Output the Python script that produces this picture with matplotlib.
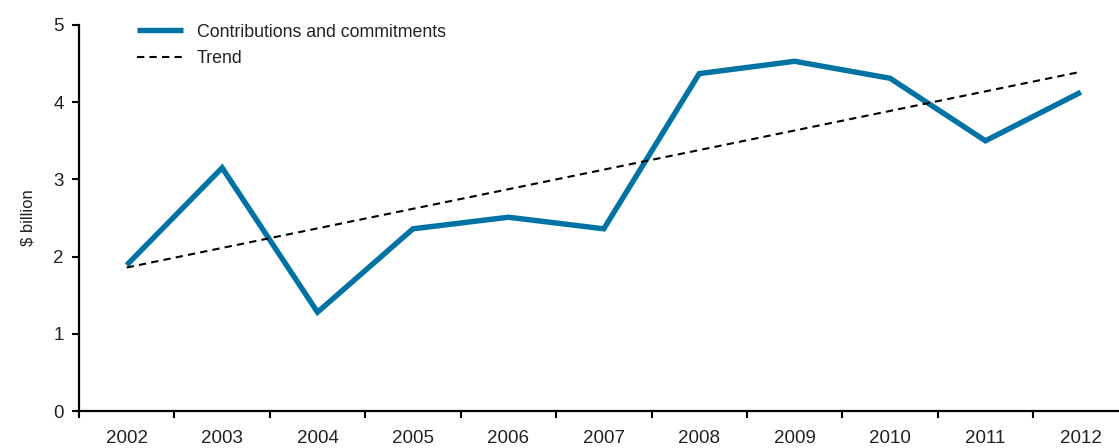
import numpy as np
import matplotlib
matplotlib.use("Agg")
import matplotlib.pyplot as plt

years = ["2002", "2003", "2004", "2005", "2006", "2007", "2008", "2009", "2010", "2011", "2012"]
contributions = [1.89, 3.15, 1.28, 2.36, 2.51, 2.36, 4.37, 4.53, 4.31, 3.50, 4.13]

plt.rcParams['font.family'] = ['Liberation Sans', 'DejaVu Sans']

W, H = 1119, 448
fig = plt.figure(figsize=(W / 100, H / 100), dpi=100)
left, right, bottom, top = 79, 1128.6, 411, 25
ax = fig.add_axes([left / W, 1 - bottom / H, (right - left) / W, (bottom - top) / H])

x = np.arange(len(years))
y = np.array(contributions)
slope, intercept = np.polyfit(x, y, 1)
trend = slope * x + intercept

ax.plot(x, y, color='#0073A4', lw=3.9, solid_joinstyle='miter', solid_capstyle='butt',
        label='Contributions and commitments')
ax.plot(x, trend, color='black', lw=1.5, ls=(0, (3.5, 2.5)), label='Trend')

ax.set_xlim(-0.5, len(years) - 0.5)
ax.set_ylim(0, 5)
ax.set_xticks(np.arange(len(years) + 1) - 0.5)
ax.set_xticklabels([])
ax.set_xticks(x, minor=True)
ax.set_xticklabels(years, minor=True)
ax.tick_params(axis='x', which='minor', length=0, pad=14, labelsize=13.5, colors='#222222')
ax.tick_params(axis='x', which='major', length=5, width=1.5, direction='out', color='black')
ax.set_yticks([0, 1, 2, 3, 4, 5])
ax.tick_params(axis='y', length=5, width=1.5, direction='out', labelsize=13.5, pad=6, colors='black',
               labelcolor='#222222')
for s in ['top', 'right']:
    ax.spines[s].set_visible(False)
for s in ['left', 'bottom']:
    ax.spines[s].set_linewidth(1.6)
ax.set_ylabel('$ billion', fontsize=12, color='#222222', labelpad=13)

leg = ax.legend(loc='upper left', bbox_to_anchor=(0.040, 1.045), frameon=False, fontsize=12.8,
                handlelength=2.6, handletextpad=0.75, labelspacing=0.55, labelcolor='#222222')

fig.savefig('out.png', dpi=100)
